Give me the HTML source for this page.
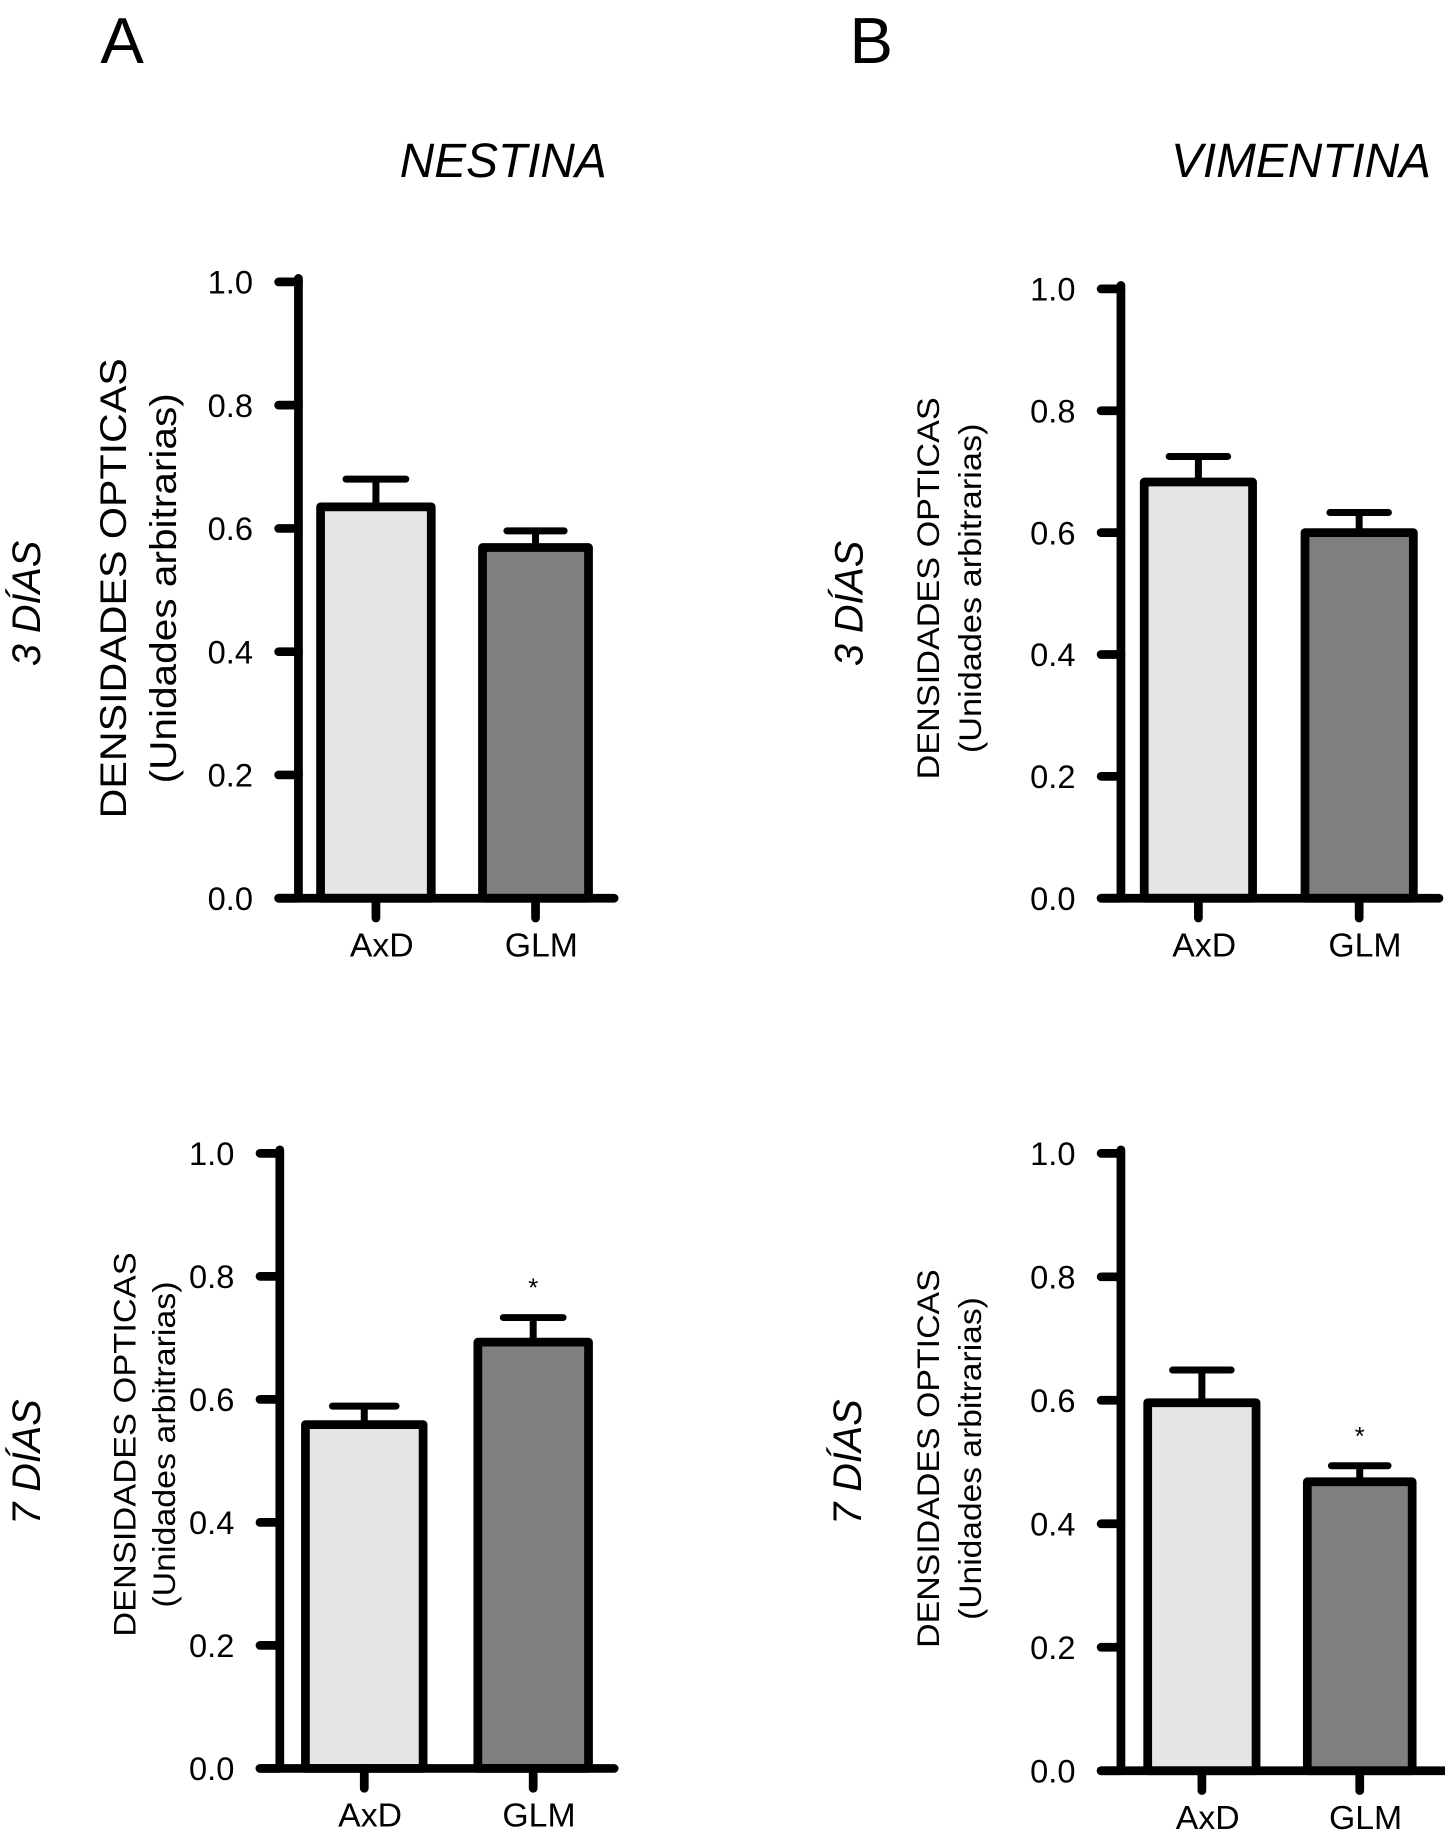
<!DOCTYPE html>
<html><head><meta charset="utf-8"><style>
html,body{margin:0;padding:0;background:#fff;}
svg{display:block;font-family:"Liberation Sans",Arial,sans-serif;}
</style></head><body>
<svg id="fig" width="1445" height="1836" viewBox="0 0 1240 1576" xmlns="http://www.w3.org/2000/svg">
<rect width="1240" height="1576" fill="#fff"/>
<text x="86" y="54" font-size="56">A</text>
<text x="729" y="54" font-size="56">B</text>
<text x="343" y="152" font-size="41" font-style="italic">NESTINA</text>
<text x="1005" y="152" font-size="41" font-style="italic">VIMENTINA</text>
<g id="charts"></g>
</svg>
<script>
const categories = ["AxD", "GLM"];
const yTicks = [0.0, 0.2, 0.4, 0.6, 0.8, 1.0];
const yTickLabels = ["0.0", "0.2", "0.4", "0.6", "0.8", "1.0"];
const nestina3Means = [0.635, 0.569];
const nestina3Errors = [0.045, 0.027];
const vimentina3Means = [0.683, 0.600];
const vimentina3Errors = [0.042, 0.033];
const nestina7Means = [0.559, 0.693];
const nestina7Errors = [0.030, 0.040];
const vimentina7Means = [0.596, 0.468];
const vimentina7Errors = [0.053, 0.026];
const nestina7Sig = [false, true];
const vimentina7Sig = [false, true];
const fills = ["#e5e5e5", "#7f7f7f"];

const NS = "http://www.w3.org/2000/svg";
const root = document.getElementById('charts');
function el(tag, attrs, parent) {
  const e = document.createElementNS(NS, tag);
  for (const k in attrs) e.setAttribute(k, attrs[k]);
  (parent || root).appendChild(e);
  return e;
}
function drawChart(cfg, means, errs, sig) {
  const g = el('g', {});
  
  
  const y = v => cfg.y0 - (cfg.y0 - cfg.y1) * v;
  const sw = 7.5;
  means.forEach((m, i) => {
    const b = el('rect', {x: cfg.bars[i][0], y: y(m), width: cfg.bars[i][1] - cfg.bars[i][0], height: y(0) - y(m), fill: fills[i], stroke: '#000', 'stroke-width': sw, 'stroke-linejoin': 'round'}, g);
    
    
    const cx = (cfg.bars[i][0] + cfg.bars[i][1]) / 2;
    const hw = (cfg.bars[i][1] - cfg.bars[i][0]) * 0.27;
    const e1 = el('path', {d: `M${cx} ${y(m)} V${y(m + errs[i])} M${cx - hw} ${y(m + errs[i])} H${cx + hw}`, stroke: '#000', 'stroke-width': 6, 'stroke-linecap': 'round', fill: 'none'}, g);
    
    
    if (sig && sig[i]) {
      const s = el('text', {x: cx, y: y(m + errs[i]) - 18, 'font-size': 22, 'text-anchor': 'middle'}, g);
      s.textContent = '*';
      
      
    }
  });
  const ax = el('path', {d: `M${cfg.ax} ${cfg.y1 - 3} V${cfg.y0} M${cfg.ax - 17} ${cfg.y0} H${cfg.xEnd}`, stroke: '#000', 'stroke-width': sw, fill: 'none', 'stroke-linecap': 'round'}, g);
  
  
  yTicks.forEach((t, i) => {
    const tk = el('line', {x1: cfg.ax - 17, x2: cfg.ax, y1: y(t), y2: y(t), stroke: '#000', 'stroke-width': sw, 'stroke-linecap': 'round'}, g);
    
    
    const tl = el('text', {x: cfg.ax - 39, y: y(t) + 10, 'font-size': 28, 'text-anchor': 'end'}, g);
    tl.textContent = yTickLabels[i];
    
    
  });
  categories.forEach((c, i) => {
    const cx = (cfg.bars[i][0] + cfg.bars[i][1]) / 2;
    const tk = el('line', {x1: cx, x2: cx, y1: cfg.y0, y2: cfg.y0 + 17, stroke: '#000', 'stroke-width': sw, 'stroke-linecap': 'round'}, g);
    
    
    const tl = el('text', {x: cx + 5, y: cfg.y0 + 50, 'font-size': 29, 'text-anchor': 'middle'}, g);
    tl.textContent = c;
    
    
  });
  const t1 = el('text', {transform: `translate(${cfg.t1x},${cfg.tcy}) rotate(-90)`, 'font-size': cfg.tfs, 'text-anchor': 'middle', textLength: cfg.t1len, lengthAdjust: 'spacingAndGlyphs'}, g);
  t1.textContent = 'DENSIDADES OPTICAS';
  
  
  const t2 = el('text', {transform: `translate(${cfg.t2x},${cfg.tcy}) rotate(-90)`, 'font-size': cfg.tfs, 'text-anchor': 'middle', textLength: cfg.t2len, lengthAdjust: 'spacingAndGlyphs'}, g);
  t2.textContent = '(Unidades arbitrarias)';
  
  
  const d = el('text', {transform: `translate(${cfg.dx},${cfg.dcy}) rotate(-90)`, 'font-size': 34, 'font-style': 'italic', 'text-anchor': 'middle'}, g);
  d.textContent = cfg.day;
  
  
}
drawChart({name: 'chart-nestina-3-dias', ax: 256, y1: 242, y0: 771, xEnd: 527, bars: [[275, 370], [414, 505]],
  t1x: 108, t2x: 151, tcy: 505, tfs: 32, t1len: 395, t2len: 335, dx: 34, dcy: 518, day: '3 DÍAS'}, nestina3Means, nestina3Errors);
drawChart({name: 'chart-vimentina-3-dias', ax: 962, y1: 248, y0: 771, xEnd: 1235, bars: [[982, 1075], [1120, 1213]],
  t1x: 806, t2x: 842, tcy: 505, tfs: 27, t1len: 328, t2len: 283, dx: 740, dcy: 518, day: '3 DÍAS'}, vimentina3Means, vimentina3Errors);
drawChart({name: 'chart-nestina-7-dias', ax: 240, y1: 990, y0: 1518, xEnd: 527, bars: [[262, 363], [410, 505]],
  t1x: 116, t2x: 150, tcy: 1240, tfs: 27, t1len: 330, t2len: 280, dx: 34, dcy: 1255, day: '7 DÍAS'}, nestina7Means, nestina7Errors, nestina7Sig);
drawChart({name: 'chart-vimentina-7-dias', ax: 962, y1: 990, y0: 1520, xEnd: 1240, bars: [[985, 1078], [1122, 1212]],
  t1x: 806, t2x: 842, tcy: 1252, tfs: 27, t1len: 325, t2len: 277, dx: 739, dcy: 1255, day: '7 DÍAS'}, vimentina7Means, vimentina7Errors, vimentina7Sig);
</script>
</body></html>
